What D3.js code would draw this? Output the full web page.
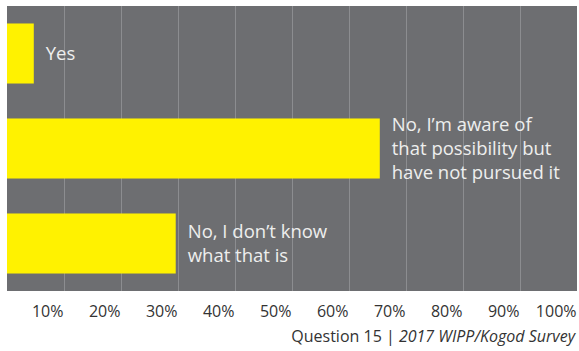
<!DOCTYPE html>
<html>
<head>
<meta charset="utf-8">
<script src="https://cdn.jsdelivr.net/npm/d3@7"></script>
<style>
    body { margin: 0; background: #fff; }
    svg text { font-family: "Open Sans", sans-serif; }
</style>
</head>
<body>
<div id="chart"></div>
<script>
// answers (one array of lines per bar) and shares
const categories = ["Yes", "No, I'm aware", "No, I don't know"];
const labelLines = [
    ["Yes"],
    ["No, I\u2019m aware of", "that possibility but", "have not pursued it"],
    ["No, I don\u2019t know", "what that is"]
];
const values = [0.047, 0.654, 0.296];
const tickValues = [0.1, 0.2, 0.3, 0.4, 0.5, 0.6, 0.7, 0.8, 0.9, 1.0];

let width = 579, height = 351;
let plot = {left: 7, right: 577, top: 6, bottom: 291};

let svg = d3.select("#chart").append("svg")
    .attr("width", width)
    .attr("height", height);

// scales
let x = d3.scaleLinear()
    .domain([0, 1])
    .range([plot.left, plot.right]);

let y = d3.scaleBand()
    .domain(categories)
    .range([plot.top, plot.bottom])
    .paddingInner(0.368)
    .paddingOuter(0.184);

// grey panel
svg.append("rect")
    .attr("x", plot.left)
    .attr("y", plot.top)
    .attr("width", plot.right - plot.left)
    .attr("height", plot.bottom - plot.top)
    .attr("fill", "#6d6e71");

// grid lines
svg.selectAll(".grid")
    .data(tickValues.filter(d => d < 1))
    .enter()
    .append("line")
    .attr("class", "grid")
    .attr("x1", d => Math.round(x(d)) + 0.5)
    .attr("x2", d => Math.round(x(d)) + 0.5)
    .attr("y1", plot.top)
    .attr("y2", plot.bottom)
    .attr("stroke", "#8c8d90")
    .attr("stroke-width", 1);

// bars
svg.selectAll(".bar")
    .data(values)
    .enter()
    .append("rect")
    .attr("class", "bar")
    .attr("x", x(0))
    .attr("y", (d, i) => y(categories[i]))
    .attr("width", d => x(d) - x(0))
    .attr("height", y.bandwidth())
    .attr("fill", "#fff200");

// bar labels
let lineH = 24;
let labels = svg.selectAll(".bar-label")
    .data(values)
    .enter()
    .append("text")
    .attr("class", "bar-label")
    .attr("fill", "#eeeeee")
    .style("font-size", "18.5px");

labels.each(function(d, i) {
    let lines = labelLines[i];
    let cy = y(categories[i]) + y.bandwidth() / 2;
    d3.select(this).selectAll("tspan")
        .data(lines)
        .enter()
        .append("tspan")
        .attr("x", x(d) + 12)
        .attr("y", (l, j) => cy + (j - (lines.length - 1) / 2) * lineH + 6)
        .text(l => l);
});

// x axis labels, right-aligned on the grid lines
let xAxis = d3.axisBottom(x)
    .tickValues(tickValues)
    .tickFormat(d3.format(".0%"))
    .tickSize(0)
    .tickPadding(0);

let axisG = svg.append("g")
    .attr("class", "x-axis")
    .attr("transform", "translate(0," + plot.bottom + ")")
    .call(xAxis);

axisG.select(".domain").remove();
axisG.selectAll("text")
    .attr("text-anchor", "end")
    .attr("dy", null)
    .attr("y", 26)
    .attr("x", -1)
    .attr("fill", "#333")
    .style("font-family", "'Open Sans', sans-serif")
    .style("font-size", "16px");

// source note
let note = svg.append("text")
    .attr("x", 575)
    .attr("y", 342)
    .attr("text-anchor", "end")
    .attr("fill", "#333")
    .style("font-size", "16px");
note.append("tspan").text("Question 15 | ");
note.append("tspan").style("font-style", "italic").text("2017 WIPP/Kogod Survey");
</script>
</body>
</html>
